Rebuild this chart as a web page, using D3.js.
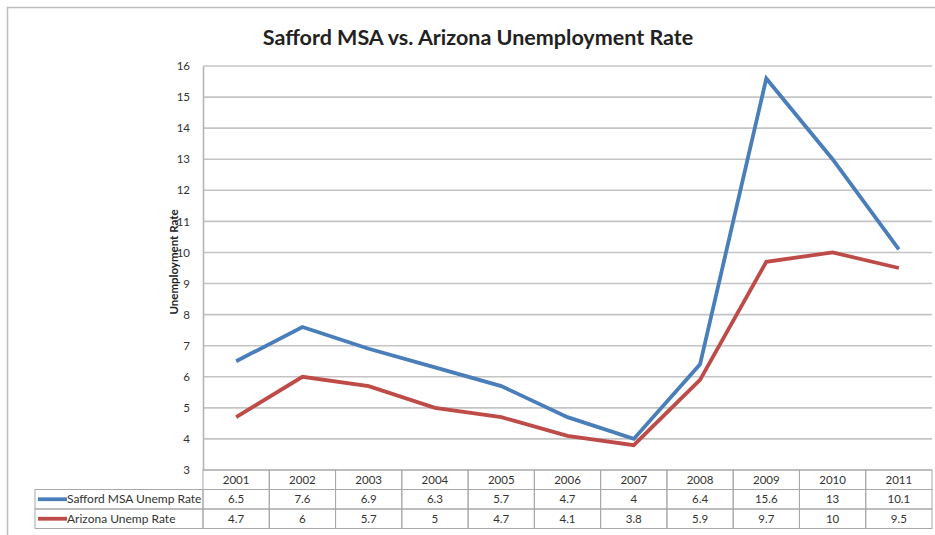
<!DOCTYPE html>
<html>
<head>
<meta charset="utf-8">
<script src="https://cdn.jsdelivr.net/npm/d3@7"></script>
<style>
  body { margin: 0; background: #fff; }
  svg { font-family: Lato, "Open Sans", sans-serif; }
</style>
</head>
<body>
<svg id="chart"></svg>
<script>
// data
const years = ["2001", "2002", "2003", "2004", "2005", "2006", "2007", "2008", "2009", "2010", "2011"];
const saffordRate = [6.5, 7.6, 6.9, 6.3, 5.7, 4.7, 4, 6.4, 15.6, 13, 10.1];
const arizonaRate = [4.7, 6, 5.7, 5, 4.7, 4.1, 3.8, 5.9, 9.7, 10, 9.5];
const seriesNames = ["Safford MSA Unemp Rate", "Arizona Unemp Rate"];
const yTicks = [3, 4, 5, 6, 7, 8, 9, 10, 11, 12, 13, 14, 15, 16];

const colors = ["#4a7ebb", "#be4b48"];
const series = [saffordRate, arizonaRate];

const W = 935, H = 535;
const plot = {left: 203, right: 932, top: 66, bottom: 470};
const rowH = 19.5;
const legendLeft = 35;

const svg = d3.select("#chart").attr("width", W).attr("height", H);

// outer chart border
svg.append("rect")
    .attr("x", 7.5).attr("y", 7.5)
    .attr("width", W).attr("height", H)
    .attr("fill", "none").attr("stroke", "#bdbdbd").attr("stroke-width", 1.5);

// title
svg.append("text")
    .attr("x", 478).attr("y", 45)
    .attr("text-anchor", "middle")
    .attr("font-size", 21.5).attr("font-weight", "bold")
    .attr("fill", "#222")
    .text("Safford MSA vs. Arizona Unemployment Rate");

// scales
const x = d3.scaleBand().domain(years).range([plot.left, plot.right]);
const y = d3.scaleLinear().domain([3, 16]).range([plot.bottom, plot.top]);

// gridlines
svg.append("g")
    .selectAll("line")
    .data(yTicks)
    .join("line")
    .attr("x1", plot.left).attr("x2", plot.right)
    .attr("y1", d => y(d)).attr("y2", d => y(d))
    .attr("stroke", "#c4c4c4").attr("stroke-width", 1.6);

// y axis
const yAxis = svg.append("g")
    .attr("transform", "translate(" + plot.left + ",0)")
    .call(d3.axisLeft(y).tickValues(yTicks).tickSize(0).tickPadding(13));
yAxis.select(".domain").attr("stroke", "#b5b5b5").attr("stroke-width", 1.6);
yAxis.selectAll("text").attr("font-size", 11.5).attr("fill", "#333").attr("font-family", "Lato, sans-serif");

svg.append("text")
    .attr("transform", "translate(178," + ((plot.top + plot.bottom) / 2 - 6) + ") rotate(-90)")
    .attr("text-anchor", "middle")
    .attr("font-size", 11.5).attr("font-weight", "bold")
    .attr("fill", "#222")
    .text("Unemployment Rate");

// lines
const line = d3.line()
    .x((d, i) => x(years[i]) + x.bandwidth() / 2)
    .y(d => y(d));

svg.append("g")
    .selectAll("path")
    .data(series)
    .join("path")
    .attr("d", line)
    .attr("fill", "none")
    .attr("stroke", (d, i) => colors[i])
    .attr("stroke-width", 3.8)
    .attr("stroke-linejoin", "miter");

// data table
const table = svg.append("g");
const gridColor = "#a8a8a8";
const tTop = plot.bottom;

// header row cells (years)
table.selectAll("rect.year")
    .data(years)
    .join("rect")
    .attr("class", "year")
    .attr("x", d => x(d)).attr("y", tTop)
    .attr("width", x.bandwidth()).attr("height", rowH)
    .attr("fill", "none").attr("stroke", gridColor);

table.selectAll("text.year")
    .data(years)
    .join("text")
    .attr("class", "year")
    .attr("x", d => x(d) + x.bandwidth() / 2)
    .attr("y", tTop + rowH / 2 + 4)
    .attr("text-anchor", "middle")
    .attr("font-size", 11.5).attr("fill", "#333")
    .text(d => d);

series.forEach((vals, si) => {
  const ry = tTop + rowH * (si + 1);
  // legend cell
  table.append("rect")
      .attr("x", legendLeft).attr("y", ry)
      .attr("width", plot.left - legendLeft).attr("height", rowH)
      .attr("fill", "none").attr("stroke", gridColor);
  table.append("line")
      .attr("x1", legendLeft + 3).attr("x2", legendLeft + 32)
      .attr("y1", ry + rowH / 2).attr("y2", ry + rowH / 2)
      .attr("stroke", colors[si]).attr("stroke-width", 3.8);
  table.append("text")
      .attr("x", legendLeft + 32).attr("y", ry + rowH / 2 + 4)
      .attr("font-size", 12).attr("fill", "#333")
      .text(seriesNames[si]);

  table.selectAll("rect.v" + si)
      .data(vals)
      .join("rect")
      .attr("class", "v" + si)
      .attr("x", (d, i) => x(years[i])).attr("y", ry)
      .attr("width", x.bandwidth()).attr("height", rowH)
      .attr("fill", "none").attr("stroke", gridColor);

  table.selectAll("text.v" + si)
      .data(vals)
      .join("text")
      .attr("class", "v" + si)
      .attr("x", (d, i) => x(years[i]) + x.bandwidth() / 2)
      .attr("y", ry + rowH / 2 + 4)
      .attr("text-anchor", "middle")
      .attr("font-size", 11.5).attr("fill", "#333")
      .text(d => d);
});
</script>
</body>
</html>
